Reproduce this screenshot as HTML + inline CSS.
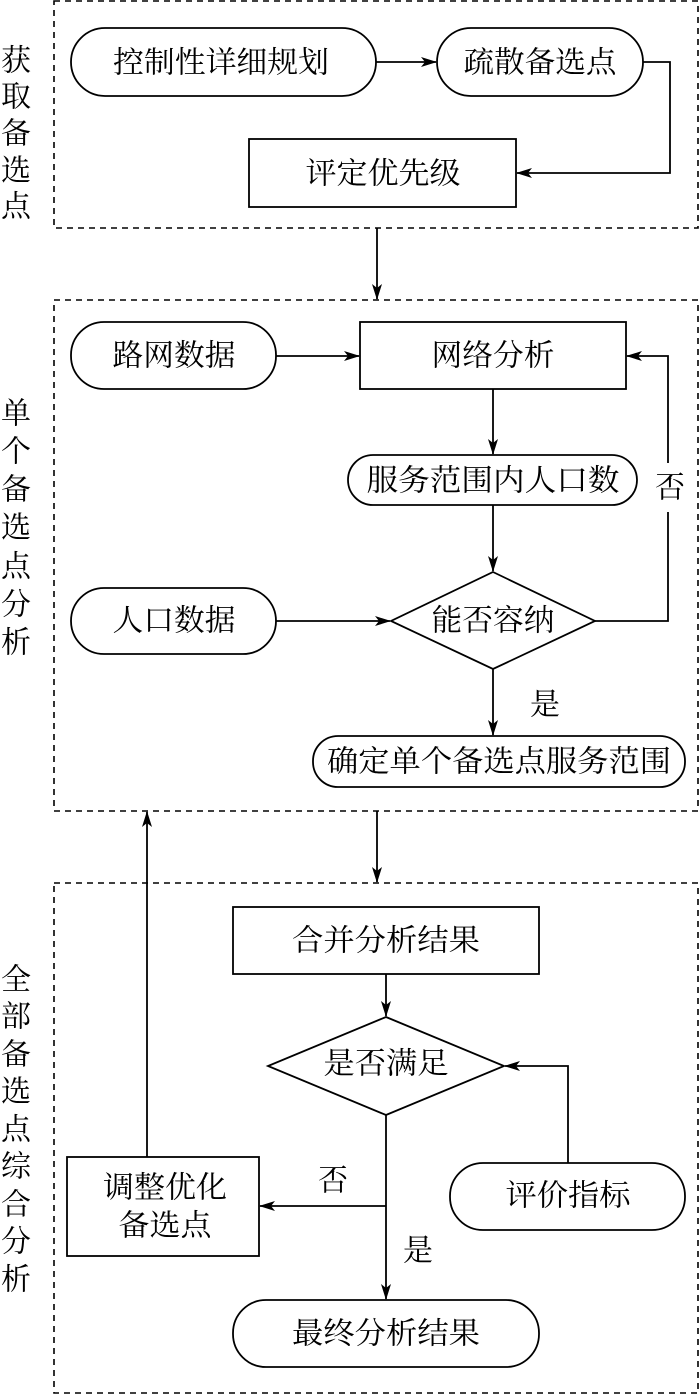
<!DOCTYPE html>
<html><head><meta charset="utf-8"><style>
html,body{margin:0;padding:0;background:#fff}
svg{display:block}
text{font-family:"Liberation Serif","Noto Serif CJK SC",serif;font-size:30px;fill:#000}
</style></head><body>
<svg width="700" height="1394" viewBox="0 0 700 1394" xmlns="http://www.w3.org/2000/svg">
<defs>
<marker id="a" markerWidth="16" markerHeight="10" refX="15" refY="5" orient="auto" markerUnits="userSpaceOnUse">
<path d="M0,0 L16,5 L0,10 L4,5 Z" fill="#000"/>
</marker>
</defs>
<g fill="none" stroke="#000" stroke-width="1.6" stroke-dasharray="6,5">
<rect x="54" y="1" width="644" height="227"/>
<rect x="54" y="300" width="644" height="511"/>
<rect x="54" y="883" width="644" height="510"/>
</g>
<g fill="none" stroke="#000" stroke-width="1.8">
<rect x="71" y="28" width="305" height="68" rx="34"/>
<rect x="437" y="28" width="206" height="68" rx="34"/>
<rect x="249" y="139" width="267" height="68"/>
<line x1="376" y1="62" x2="436" y2="62" marker-end="url(#a)"/>
<polyline points="643,62 670,62 670,173 517,173" marker-end="url(#a)"/>
<line x1="377" y1="228" x2="377" y2="299" marker-end="url(#a)"/>
<rect x="71" y="322" width="205" height="67" rx="33"/>
<rect x="360" y="322" width="266" height="67"/>
<line x1="276" y1="356" x2="359" y2="356" marker-end="url(#a)"/>
<polyline points="595,621 668,621 668,512"/>
<polyline points="668,463 668,356 627,356" marker-end="url(#a)"/>
<line x1="493" y1="389" x2="493" y2="454" marker-end="url(#a)"/>
<rect x="348" y="455" width="289" height="50" rx="25"/>
<line x1="493" y1="505" x2="493" y2="571" marker-end="url(#a)"/>
<polygon points="493,572 595,621 493,669 391,621"/>
<rect x="71" y="588" width="205" height="66" rx="33"/>
<line x1="276" y1="621" x2="390" y2="621" marker-end="url(#a)"/>
<line x1="493" y1="669" x2="493" y2="735" marker-end="url(#a)"/>
<rect x="313" y="736" width="372" height="51" rx="25"/>
<line x1="377" y1="811" x2="377" y2="882" marker-end="url(#a)"/>
<line x1="147" y1="1157" x2="147" y2="812" marker-end="url(#a)"/>
<rect x="233" y="907" width="306" height="67"/>
<line x1="386" y1="974" x2="386" y2="1016" marker-end="url(#a)"/>
<polygon points="386,1017 504,1066 386,1115 268,1066"/>
<rect x="450" y="1163" width="235" height="67" rx="33"/>
<polyline points="568,1163 568,1066 505,1066" marker-end="url(#a)"/>
<line x1="386" y1="1115" x2="386" y2="1299" marker-end="url(#a)"/>
<line x1="386" y1="1206" x2="260" y2="1206" marker-end="url(#a)"/>
<rect x="67" y="1157" width="192" height="99"/>
<rect x="233" y="1300" width="306" height="67" rx="33"/>
</g>
<g text-anchor="middle" dominant-baseline="central">
<text x="221" y="63" textLength="216" lengthAdjust="spacingAndGlyphs">控制性详细规划</text>
<text x="540" y="63" textLength="153" lengthAdjust="spacingAndGlyphs">疏散备选点</text>
<text x="383" y="174" textLength="155" lengthAdjust="spacingAndGlyphs">评定优先级</text>
<text x="174" y="356" textLength="123" lengthAdjust="spacingAndGlyphs">路网数据</text>
<text x="493" y="356" textLength="123" lengthAdjust="spacingAndGlyphs">网络分析</text>
<text x="493" y="481" textLength="253" lengthAdjust="spacingAndGlyphs">服务范围内人口数</text>
<text x="493" y="621" textLength="123" lengthAdjust="spacingAndGlyphs">能否容纳</text>
<text x="174" y="621" textLength="123" lengthAdjust="spacingAndGlyphs">人口数据</text>
<text x="499" y="762" textLength="344" lengthAdjust="spacingAndGlyphs">确定单个备选点服务范围</text>
<text x="670" y="488">否</text>
<text x="545" y="705">是</text>
<text x="386" y="941" textLength="188" lengthAdjust="spacingAndGlyphs">合并分析结果</text>
<text x="386" y="1064" textLength="125" lengthAdjust="spacingAndGlyphs">是否满足</text>
<text x="568" y="1196" textLength="125" lengthAdjust="spacingAndGlyphs">评价指标</text>
<text x="165" y="1188" textLength="124" lengthAdjust="spacingAndGlyphs">调整优化</text>
<text x="165" y="1226" textLength="93" lengthAdjust="spacingAndGlyphs">备选点</text>
<text x="333" y="1181">否</text>
<text x="418" y="1251">是</text>
<text x="386" y="1334" textLength="188" lengthAdjust="spacingAndGlyphs">最终分析结果</text>
<text x="16" y="61">获</text>
<text x="16" y="97">取</text>
<text x="16" y="134">备</text>
<text x="16" y="171">选</text>
<text x="16" y="207">点</text>
<text x="16" y="414">单</text>
<text x="16" y="452">个</text>
<text x="16" y="490">备</text>
<text x="16" y="528">选</text>
<text x="16" y="567">点</text>
<text x="16" y="605">分</text>
<text x="16" y="643">析</text>
<text x="16" y="980">全</text>
<text x="16" y="1017">部</text>
<text x="16" y="1055">备</text>
<text x="16" y="1092">选</text>
<text x="16" y="1130">点</text>
<text x="16" y="1167">综</text>
<text x="16" y="1205">合</text>
<text x="16" y="1242">分</text>
<text x="16" y="1280">析</text>
</g>
</svg>
</body></html>
